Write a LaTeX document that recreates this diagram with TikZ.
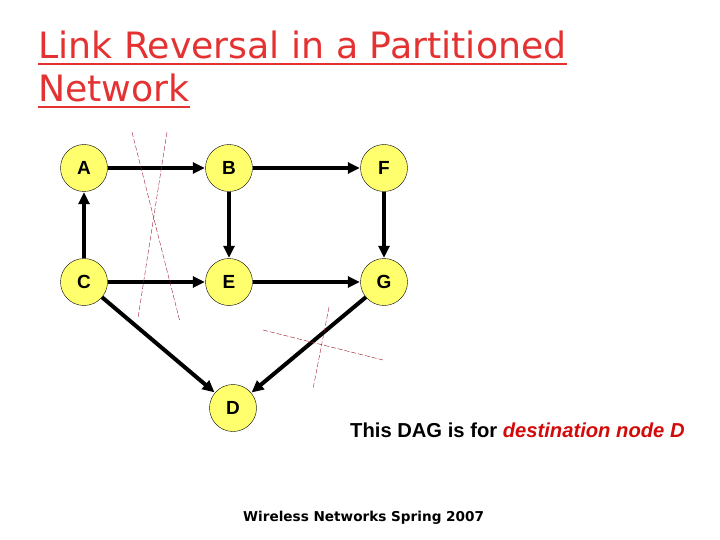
\documentclass[tikz,border=0pt]{standalone}
\usepackage{fontspec}
\setmainfont{Liberation Sans}
\newfontfamily\titlefont{DejaVu Sans}
\usetikzlibrary{arrows.meta}

\definecolor{titlered}{RGB}{228,50,50}
\definecolor{notered}{RGB}{210,10,10}
\definecolor{nodeyellow}{RGB}{255,255,110}
\definecolor{cutred}{RGB}{160,30,50}

\tikzset{
	netnode/.style={draw, thin, circle, fill=nodeyellow, minimum size=47pt, inner sep=0pt, font=\fontsize{19}{19}\selectfont\bfseries},
	link/.style={line width=4pt, -{Triangle[length=12pt,width=11pt]}, shorten >=0.5pt},
	cut/.style={cutred, thin, dash pattern=on 5pt off 2pt},
	titleline/.style={anchor=base west, inner sep=0pt, text=titlered, font=\titlefont\fontsize{36.3}{36.3}\selectfont},
	underbar/.style={titlered, line width=2.6pt}
}

\begin{document}
\begin{tikzpicture}[x=1pt, y=-1pt]

	\useasboundingbox (0,0) rectangle (720,540);

	%% The title, two lines, underlined
	\node[titleline] at (38,59) (title1) {Link Reversal in a Partitioned};
	\node[titleline] at (38,102) (title2) {Network};
	\draw[underbar] ([yshift=-5pt]title1.base west) -- ([yshift=-5pt]title1.base east);
	\draw[underbar] ([yshift=-5pt]title2.base west) -- ([yshift=-5pt]title2.base east);

	%% The nodes
	\node[netnode] at ( 84,168) (A) {A};
	\node[netnode] at (229,168) (B) {B};
	\node[netnode] at (384,168) (F) {F};
	\node[netnode] at ( 84,282) (C) {C};
	\node[netnode] at (229,282) (E) {E};
	\node[netnode] at (384,282) (G) {G};
	\node[netnode] at (233,408) (D) {D};

	%% The links
	\draw[link] (A) -- (B);
	\draw[link] (B) -- (F);
	\draw[link] (C) -- (A);
	\draw[link] (C) -- (E);
	\draw[link] (B) -- (E);
	\draw[link] (F) -- (G);
	\draw[link] (E) -- (G);
	\draw[link] (C) -- (D);
	\draw[link] (G) -- (D);

	%% The cut links, crossed out
	\coordinate (c1a) at (132,132);
	\coordinate (c1b) at (180,322);
	\coordinate (c2a) at (167,132);
	\coordinate (c2b) at (138,318);
	\draw[cut] (c1a) -- (c1b);
	\draw[cut] (c2a) -- (c2b);
	\coordinate (c3a) at (263,330);
	\coordinate (c3b) at (383,360);
	\coordinate (c4a) at (329,307);
	\coordinate (c4b) at (313,389);
	\draw[cut] (c3a) -- (c3b);
	\draw[cut] (c4a) -- (c4b);

	%% The notes
	\node[anchor=base west, inner sep=0pt, font=\fontsize{20.2}{20.2}\selectfont\bfseries] at (350,437) (note) {This DAG is for \textcolor{notered}{\itshape destination node D}};
	\node[anchor=base west, inner sep=0pt, font=\titlefont\fontsize{13.6}{13.6}\selectfont\bfseries] at (243,521) (footer) {Wireless Networks Spring 2007};

\end{tikzpicture}
\end{document}
